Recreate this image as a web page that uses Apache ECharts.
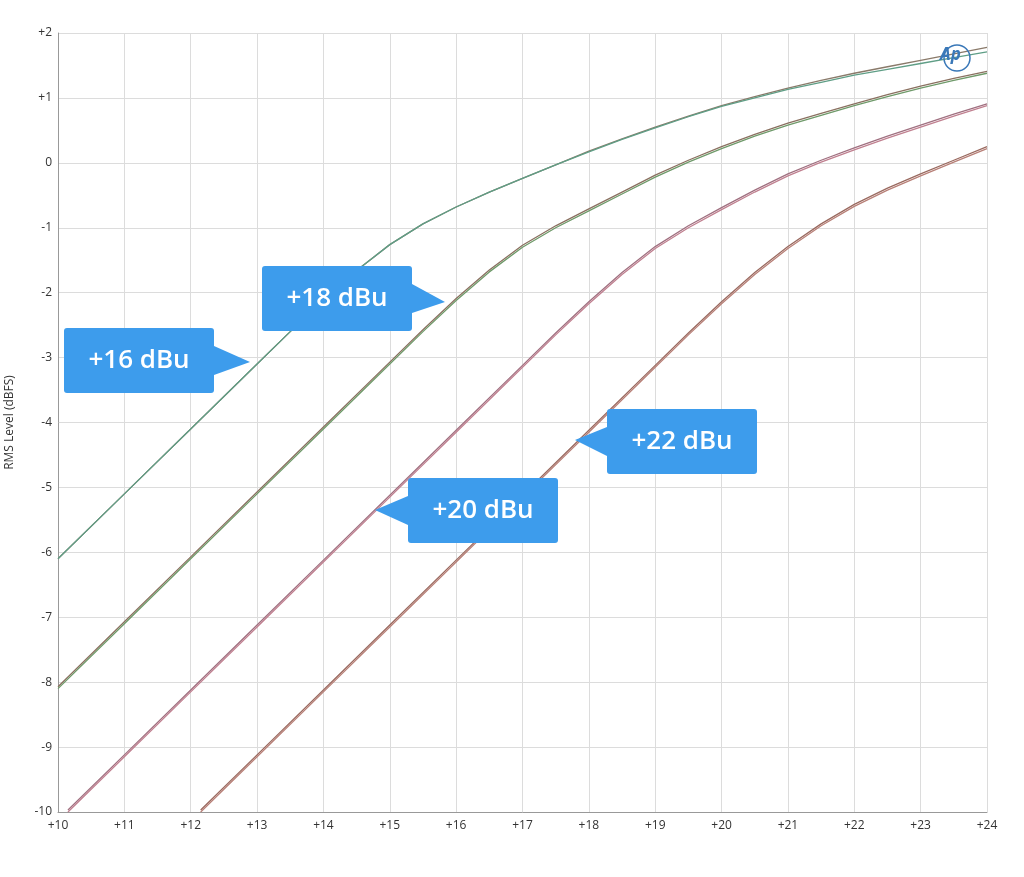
<!DOCTYPE html>
<html>
<head>
<meta charset="utf-8">
<script src="https://cdn.jsdelivr.net/npm/echarts@6/dist/echarts.min.js"></script>
<style>html,body{margin:0;background:#fff}#chart{width:1024px;height:877px}</style>
</head>
<body>
<div id="chart"></div>
<script>
// input level (dBu) sample points
const xs = [10, 11, 12, 13, 13.5, 14, 14.5, 15, 15.5, 16, 16.5, 17, 17.5, 18, 18.5, 19, 19.5, 20, 20.5, 21, 21.5, 22, 22.5, 23, 23.5, 24];

// RMS level (dBFS) per curve, channel A / channel B
const db16a = [-6.1, -5.1, -4.1, -3.1, -2.6, -2.12, -1.66, -1.26, -0.94, -0.68, -0.45, -0.24, -0.03, 0.18, 0.37, 0.55, 0.72, 0.88, 1.02, 1.15, 1.27, 1.38, 1.48, 1.58, 1.68, 1.78];
const db16b = [-6.1, -5.1, -4.1, -3.1, -2.6, -2.12, -1.66, -1.26, -0.94, -0.68, -0.45, -0.24, -0.03, 0.17, 0.36, 0.54, 0.71, 0.87, 1.0, 1.13, 1.24, 1.35, 1.44, 1.53, 1.62, 1.71];
const xs18 = [10, 11, 12, 13, 14, 15, 15.5, 16, 16.5, 17, 17.5, 18, 18.5, 19, 19.5, 20, 20.5, 21, 21.5, 22, 22.5, 23, 23.5, 24];
const db18 = [-8.1, -7.1, -6.1, -5.1, -4.1, -3.1, -2.6, -2.12, -1.68, -1.3, -1.0, -0.74, -0.48, -0.22, 0.01, 0.22, 0.41, 0.58, 0.73, 0.88, 1.02, 1.15, 1.27, 1.38];
const xs20 = [10.15, 11, 12, 13, 14, 15, 16, 17, 17.5, 18, 18.5, 19, 19.5, 20, 20.5, 21, 21.5, 22, 22.5, 23, 23.5, 24];
const db20 = [-10, -9.15, -8.15, -7.15, -6.15, -5.15, -4.15, -3.15, -2.65, -2.17, -1.72, -1.32, -1.0, -0.72, -0.45, -0.2, 0.01, 0.2, 0.38, 0.55, 0.72, 0.88];
const xs22 = [12.15, 13, 14, 15, 16, 17, 18, 19, 19.5, 20, 20.5, 21, 21.5, 22, 22.5, 23, 23.5, 24];
const db22 = [-10, -9.15, -8.15, -7.15, -6.15, -5.15, -4.15, -3.15, -2.65, -2.17, -1.72, -1.32, -0.97, -0.67, -0.42, -0.2, 0.01, 0.22];

const zip = (x, y, dy = 0) => x.map((v, i) => [v, y[i] + dy]).filter(p => p[1] >= -10);
const line = (data, color) => ({
  type: "line", data, showSymbol: false,
  lineStyle: { color, width: 1.3 }, silent: true, z: 1
});

const box = (x, y, text, tip, left) => {
  const w = 150, h = 65;
  const pts = left
    ? [[x, y + 18], [tip[0], tip[1]], [x, y + 47]]
    : [[x + w, y + 18], [tip[0], tip[1]], [x + w, y + 47]];
  return [
    { type: "polygon", z: 100, shape: { points: pts }, style: { fill: "#3d9cec" } },
    { type: "rect", z: 100, shape: { x, y, width: w, height: h, r: 3 }, style: { fill: "#3d9cec" } },
    { type: "text", z: 101, x: x + w / 2, y: y + h / 2, style: { text, fill: "#fff", font: "600 26px 'Open Sans', sans-serif", align: "center", verticalAlign: "middle" } }
  ];
};

const chart = echarts.init(document.getElementById("chart"));
chart.setOption({
  animation: false,
  grid: { left: 58, right: 37, top: 33, bottom: 65, containLabel: false, outerBoundsMode: "none" },
  xAxis: {
    type: "value", min: 10, max: 24, interval: 1,
    axisLine: { onZero: false, lineStyle: { color: "#999" } }, axisTick: { show: false },
    axisLabel: { color: "#333", fontSize: 12, fontFamily: "Open Sans", formatter: v => "+" + v },
    splitLine: { lineStyle: { color: "#dcdcdc" } }
  },
  yAxis: {
    type: "value", min: -10, max: 2, interval: 1,
    name: "RMS Level (dBFS)", nameLocation: "middle", nameGap: 42,
    nameTextStyle: { color: "#333", fontSize: 12, fontFamily: "Open Sans" },
    axisLine: { show: true, lineStyle: { color: "#999" } }, axisTick: { show: false },
    axisLabel: { color: "#333", fontSize: 12, fontFamily: "Open Sans", margin: 6, formatter: v => (v > 0 ? "+" + v : "" + v) },
    splitLine: { lineStyle: { color: "#dcdcdc" } }
  },
  series: [
    line(zip(xs, db16a), "#8a7a6a"),
    line(zip(xs, db16b), "#5f9e86"),
    line(zip(xs18, db18, 0.03), "#8a7060"),
    line(zip(xs18, db18), "#6f9a6a"),
    line(zip(xs20, db20, 0.03), "#a07080"),
    line(zip(xs20, db20), "#c08090"),
    line(zip(xs22, db22, 0.03), "#9a6a60"),
    line(zip(xs22, db22), "#b88078")
  ],
  graphic: [
    ...box(64, 328, "+16 dBu", [250, 362], false),
    ...box(262, 266, "+18 dBu", [445, 302], false),
    ...box(408, 478, "+20 dBu", [375, 510], true),
    ...box(607, 409, "+22 dBu", [575, 440], true),
    { type: "text", z: 100, x: 940, y: 47, style: { text: "Ap", fill: "#3a78b8", font: "italic bold 17px 'Open Sans', sans-serif" } },
    { type: "circle", z: 100, shape: { cx: 957, cy: 58, r: 13 }, style: { fill: "none", stroke: "#3a78b8", lineWidth: 1.5 } }
  ]
});
</script>
</body>
</html>
